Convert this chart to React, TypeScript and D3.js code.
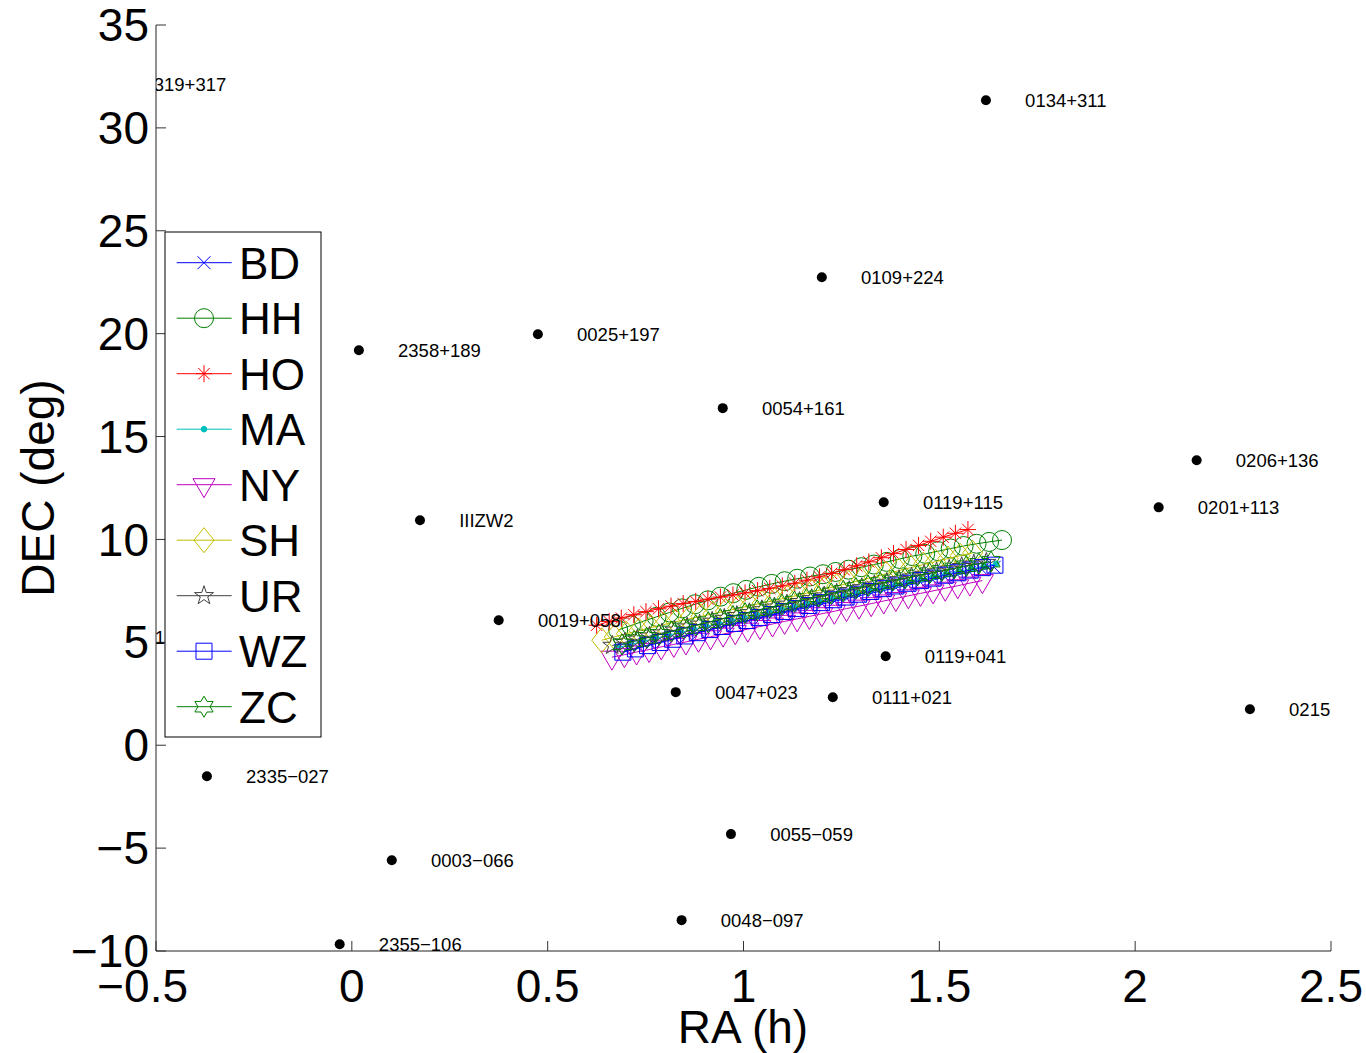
import React, { useEffect } from "react";
import * as d3 from "d3";

const W = 1366;
const H = 1053;
const FONT = "'Liberation Sans', Arial, Helvetica, sans-serif";

// axes limits and ticks
const xDomain = [-0.5, 2.5];
const yDomain = [-10, 35];
const xTicks = [-0.5, 0, 0.5, 1, 1.5, 2, 2.5];
const yTicks = [-10, -5, 0, 5, 10, 15, 20, 25, 30, 35];

// labelled radio sources (RA in h, wrapped to negative past 0h; DEC in deg)
const sourceNames = [
  "2319+317", "0134+311", "0109+224", "0025+197", "2358+189", "0054+161",
  "0206+136", "0201+113", "0119+115", "IIIZW2", "0019+058", "2319+052",
  "0119+041", "0047+023", "0111+021", "0215+015", "2335\u2212027",
  "0055\u2212059", "0003\u2212066", "0048\u2212097", "2355\u2212106",
];
const sourceRA = [
  -0.632, 1.619, 1.2, 0.475, 0.018, 0.947, 2.157, 2.06, 1.358, 0.174, 0.375,
  -0.656, 1.363, 0.827, 1.228, 2.293, -0.37, 0.968, 0.102, 0.842, -0.031,
];
const sourceDEC = [
  32.1, 31.34, 22.74, 19.97, 19.19, 16.38, 13.85, 11.56, 11.81, 10.93, 6.07,
  5.25, 4.32, 2.58, 2.33, 1.75, -1.51, -4.32, -5.59, -8.5, -9.67,
];

// stations
const stations = ["BD", "HH", "HO", "MA", "NY", "SH", "UR", "WZ", "ZC"];
const stationColors = ["#0000ff", "#008000", "#ff0000", "#00bfbf", "#bf00bf", "#bfbf00", "#404040", "#0000ff", "#008000"];
const stationMarkers = ["x", "o", "*", ".", "v", "d", "p", "s", "h"];

// tracks seen from each station
const raBD = [0.700, 0.731, 0.763, 0.794, 0.825, 0.857, 0.888, 0.919, 0.951, 0.982, 1.013, 1.045, 1.076, 1.107, 1.139, 1.170, 1.201, 1.233, 1.264, 1.295, 1.327, 1.358, 1.389, 1.421, 1.452, 1.483, 1.515, 1.546, 1.577, 1.609, 1.640];
const decBD = [4.60, 4.75, 4.90, 5.05, 5.20, 5.34, 5.49, 5.63, 5.77, 5.91, 6.05, 6.19, 6.33, 6.46, 6.60, 6.73, 6.86, 7.00, 7.13, 7.26, 7.39, 7.52, 7.65, 7.78, 7.91, 8.03, 8.16, 8.28, 8.41, 8.53, 8.65];

const raHH = [0.680, 0.713, 0.745, 0.778, 0.811, 0.843, 0.876, 0.909, 0.941, 0.974, 1.007, 1.039, 1.072, 1.105, 1.137, 1.170, 1.203, 1.235, 1.268, 1.301, 1.333, 1.366, 1.399, 1.431, 1.464, 1.497, 1.529, 1.562, 1.595, 1.627, 1.660];
const decHH = [5.60, 5.82, 6.03, 6.24, 6.45, 6.65, 6.85, 7.04, 7.22, 7.39, 7.55, 7.70, 7.84, 7.97, 8.09, 8.20, 8.31, 8.42, 8.53, 8.65, 8.78, 8.91, 9.05, 9.19, 9.30, 9.43, 9.56, 9.68, 9.79, 9.88, 9.97];

const raHO = [0.625, 0.657, 0.688, 0.720, 0.751, 0.783, 0.815, 0.846, 0.878, 0.909, 0.941, 0.973, 1.004, 1.036, 1.067, 1.099, 1.131, 1.162, 1.194, 1.225, 1.257, 1.289, 1.320, 1.352, 1.383, 1.415, 1.447, 1.478, 1.510, 1.541, 1.573];
const decHO = [5.83, 6.01, 6.18, 6.34, 6.49, 6.63, 6.76, 6.88, 6.99, 7.10, 7.20, 7.30, 7.40, 7.51, 7.62, 7.74, 7.87, 8.02, 8.18, 8.35, 8.53, 8.72, 8.91, 9.11, 9.31, 9.51, 9.71, 9.91, 10.11, 10.30, 10.48];

const raMA = [0.680, 0.712, 0.744, 0.777, 0.809, 0.841, 0.873, 0.905, 0.937, 0.970, 1.002, 1.034, 1.066, 1.098, 1.130, 1.163, 1.195, 1.227, 1.259, 1.291, 1.323, 1.356, 1.388, 1.420, 1.452, 1.484, 1.516, 1.549, 1.581, 1.613, 1.645];
const decMA = [4.75, 4.90, 5.05, 5.20, 5.35, 5.49, 5.64, 5.78, 5.92, 6.06, 6.20, 6.34, 6.48, 6.61, 6.75, 6.88, 7.01, 7.15, 7.28, 7.41, 7.54, 7.67, 7.80, 7.93, 8.06, 8.18, 8.31, 8.44, 8.57, 8.69, 8.82];

const raNY = [0.664, 0.696, 0.727, 0.759, 0.790, 0.822, 0.853, 0.885, 0.916, 0.948, 0.979, 1.011, 1.042, 1.074, 1.105, 1.137, 1.168, 1.200, 1.232, 1.263, 1.295, 1.326, 1.358, 1.389, 1.421, 1.452, 1.484, 1.515, 1.547, 1.578, 1.610];
const decNY = [4.28, 4.40, 4.53, 4.65, 4.78, 4.90, 5.02, 5.15, 5.27, 5.40, 5.52, 5.64, 5.77, 5.89, 6.02, 6.14, 6.26, 6.39, 6.51, 6.64, 6.76, 6.88, 7.01, 7.13, 7.26, 7.38, 7.50, 7.63, 7.75, 7.88, 8.00];

const raSH = [0.638, 0.670, 0.701, 0.733, 0.764, 0.796, 0.827, 0.859, 0.891, 0.922, 0.954, 0.985, 1.017, 1.048, 1.080, 1.112, 1.143, 1.175, 1.206, 1.238, 1.269, 1.301, 1.333, 1.364, 1.396, 1.427, 1.459, 1.490, 1.522, 1.553, 1.585];
const decSH = [5.10, 5.26, 5.42, 5.57, 5.72, 5.86, 6.00, 6.13, 6.26, 6.39, 6.52, 6.65, 6.78, 6.91, 7.04, 7.17, 7.31, 7.45, 7.59, 7.73, 7.88, 8.03, 8.18, 8.33, 8.48, 8.63, 8.78, 8.92, 9.07, 9.21, 9.35];

const raUR = [0.665, 0.697, 0.729, 0.760, 0.792, 0.824, 0.856, 0.888, 0.920, 0.951, 0.983, 1.015, 1.047, 1.079, 1.111, 1.143, 1.174, 1.206, 1.238, 1.270, 1.302, 1.334, 1.366, 1.397, 1.429, 1.461, 1.493, 1.525, 1.557, 1.588, 1.620];
const decUR = [4.85, 5.00, 5.15, 5.30, 5.45, 5.59, 5.74, 5.88, 6.02, 6.16, 6.30, 6.44, 6.58, 6.71, 6.85, 6.98, 7.12, 7.25, 7.38, 7.51, 7.65, 7.78, 7.91, 8.04, 8.17, 8.30, 8.42, 8.55, 8.68, 8.80, 8.88];

const raWZ = [0.692, 0.724, 0.755, 0.787, 0.819, 0.850, 0.882, 0.914, 0.945, 0.977, 1.009, 1.040, 1.072, 1.104, 1.135, 1.167, 1.199, 1.230, 1.262, 1.294, 1.325, 1.357, 1.389, 1.420, 1.452, 1.484, 1.515, 1.547, 1.579, 1.610, 1.642];
const decWZ = [4.52, 4.68, 4.84, 4.99, 5.15, 5.31, 5.47, 5.62, 5.77, 5.92, 6.06, 6.21, 6.35, 6.50, 6.64, 6.79, 6.93, 7.07, 7.20, 7.34, 7.47, 7.61, 7.74, 7.87, 8.00, 8.12, 8.26, 8.38, 8.51, 8.63, 8.75];

const raZC = [0.690, 0.721, 0.753, 0.784, 0.816, 0.847, 0.878, 0.910, 0.941, 0.973, 1.004, 1.035, 1.067, 1.098, 1.130, 1.161, 1.192, 1.224, 1.255, 1.287, 1.318, 1.349, 1.381, 1.412, 1.444, 1.475, 1.506, 1.538, 1.569, 1.601, 1.632];
const decZC = [4.90, 5.06, 5.22, 5.37, 5.53, 5.68, 5.83, 5.98, 6.13, 6.28, 6.42, 6.56, 6.70, 6.84, 6.98, 7.11, 7.24, 7.38, 7.50, 7.64, 7.76, 7.88, 8.01, 8.12, 8.25, 8.36, 8.47, 8.59, 8.70, 8.82, 8.92];

const trackRA = [raBD, raHH, raHO, raMA, raNY, raSH, raUR, raWZ, raZC];
const trackDEC = [decBD, decHH, decHO, decMA, decNY, decSH, decUR, decWZ, decZC];

function starPath(n: number, ro: number, ri: number) {
  const p = d3.path();
  for (let k = 0; k < 2 * n; k++) {
    const a = -Math.PI / 2 + (k * Math.PI) / n;
    const r = k % 2 === 0 ? ro : ri;
    if (k === 0) p.moveTo(r * Math.cos(a), r * Math.sin(a));
    else p.lineTo(r * Math.cos(a), r * Math.sin(a));
  }
  p.closePath();
  return p.toString();
}

function circlePath(r: number) {
  return `M${r},0A${r},${r} 0 1,1 ${-r},0A${r},${r} 0 1,1 ${r},0Z`;
}

function markerPath(m: string) {
  switch (m) {
    case "x":
      return "M-6.5,-6.5L6.5,6.5M-6.5,6.5L6.5,-6.5";
    case "o":
      return circlePath(9.5);
    case "*":
      return "M-8,0H8M0,-8.5V8.5M-5.7,-5.7L5.7,5.7M-5.7,5.7L5.7,-5.7";
    case ".":
      return circlePath(2.8);
    case "v":
      return "M-11,-6L11,-6L0,13Z";
    case "d":
      return "M0,-12.5L10,0L0,12.5L-10,0Z";
    case "p":
      return starPath(5, 10, 3.9);
    case "s":
      return "M-8,-8H8V8H-8Z";
    case "h":
      return starPath(6, 10.5, 6.1);
    default:
      return "";
  }
}

function Marker({ m, color, x, y }: { m: string; color: string; x: number; y: number }) {
  return (
    <path
      d={markerPath(m)}
      transform={`translate(${x},${y})`}
      fill={m === "." ? color : "none"}
      stroke={color}
      strokeWidth={1}
    />
  );
}

function fmt(v: number) {
  const s = String(Math.abs(v));
  return v < 0 ? "\u2212" + s : s;
}

export default function App() {
  useEffect(() => {
    document.body.style.margin = "0";
  }, []);

  const x = d3.scaleLinear().domain(xDomain).range([156, 1331]);
  const y = d3.scaleLinear().domain(yDomain).range([951, 25]);
  const line = d3.line<[number, number]>().x((d) => x(d[0])).y((d) => y(d[1]));

  const legendX = 165;
  const legendY = 232;
  const rowStep = 55.5;

  return (
    <svg width={W} height={H} style={{ display: "block", background: "#fff" }} fontFamily={FONT}>
      <defs>
        <clipPath id="axclip">
          <rect x={156} y={25} width={1175} height={926} />
        </clipPath>
      </defs>

      {/* axes */}
      <line x1={156} y1={25} x2={156} y2={951} stroke="#222" />
      <line x1={156} y1={951} x2={1331} y2={951} stroke="#222" />
      {xTicks.map((t) => (
        <g key={"xt" + t}>
          <line x1={x(t)} x2={x(t)} y1={951} y2={941} stroke="#333" />
          <text x={x(t)} y={1002} dx={t < 0 ? -13.4 : 0} textAnchor="middle" fontSize={46}>
            {fmt(t)}
          </text>
        </g>
      ))}
      {yTicks.map((t) => (
        <g key={"yt" + t}>
          <line x1={156} x2={166} y1={y(t)} y2={y(t)} stroke="#333" />
          <text x={149} y={y(t)} dy="0.35em" textAnchor="end" fontSize={46}>
            {fmt(t)}
          </text>
        </g>
      ))}
      <text x={743} y={1043} textAnchor="middle" fontSize={46}>RA (h)</text>
      <text transform="translate(54,488) rotate(-90)" textAnchor="middle" fontSize={46}>DEC (deg)</text>

      <g clipPath="url(#axclip)">
        {stations.map((s, si) => {
          const pts: [number, number][] = trackRA[si].map((r, i) => [r, trackDEC[si][i]]);
          return (
            <g key={s}>
              <path d={line(pts) || ""} fill="none" stroke={stationColors[si]} strokeWidth={1} />
              {pts.map((p, i) => (
                <Marker key={i} m={stationMarkers[si]} color={stationColors[si]} x={x(p[0])} y={y(p[1])} />
              ))}
            </g>
          );
        })}
        {sourceNames.map((n, i) => (
          <g key={n}>
            <circle cx={x(sourceRA[i])} cy={y(sourceDEC[i])} r={5} fill="#000" />
            <text x={x(sourceRA[i] + 0.1)} y={y(sourceDEC[i])} dy="0.35em" fontSize={18.5}>
              {n}
            </text>
          </g>
        ))}
      </g>

      {/* legend */}
      <rect x={legendX} y={legendY} width={156} height={505} fill="#fff" stroke="#000" />
      {stations.map((s, i) => {
        const ry = 262.7 + i * rowStep;
        return (
          <g key={"lg" + s}>
            <line x1={176.7} x2={231.7} y1={ry} y2={ry} stroke={stationColors[i]} />
            <Marker m={stationMarkers[i]} color={stationColors[i]} x={204} y={ry} />
            <text x={239} y={ry + 16} fontSize={44}>{s}</text>
          </g>
        );
      })}
    </svg>
  );
}
